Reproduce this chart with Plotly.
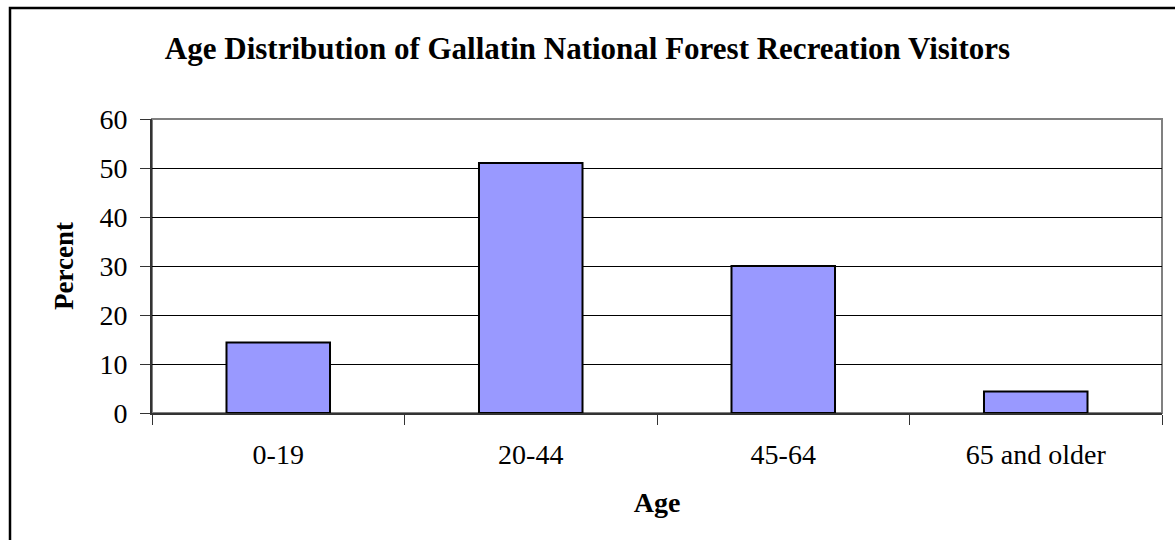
import plotly.graph_objects as go

categories = ["0-19", "20-44", "45-64", "65 and older"]
percent = [14.4, 51.0, 30.0, 4.4]
y_ticks = [0, 10, 20, 30, 40, 50, 60]

title_text = "Age Distribution of Gallatin National Forest Recreation Visitors"
x_title = "Age"
y_title = "Percent"

serif = "Liberation Serif, Times New Roman, serif"

fig = go.Figure(
    go.Bar(
        x=categories,
        y=percent,
        marker=dict(color="#9999FF", line=dict(color="#000000", width=2)),
        hoverinfo="x+y",
    )
)

W, H = 1175, 540
ml, mr, mt, mb = 152, 13, 119, 127
pw = W - ml - mr
ph = H - mt - mb

def px_x(p):
    return (p - ml) / pw

def px_y(p):
    return (H - mb - p) / ph

fig.update_layout(
    width=W,
    height=H,
    margin=dict(l=ml, r=mr, t=mt, b=mb, pad=0),
    paper_bgcolor="white",
    plot_bgcolor="white",
    showlegend=False,
    bargap=0.59,
    font=dict(family=serif, color="#000000"),
    title=dict(
        text="<b>" + title_text + "</b>",
        font=dict(family=serif, size=31, color="#000000"),
        xref="container", x=0.5, xanchor="center",
        yref="container", y=1 - 48 / H, yanchor="middle",
    ),
    xaxis=dict(
        type="category",
        showgrid=False,
        showline=True, linecolor="#333333", linewidth=2,
        ticks="outside", ticklen=10, tickwidth=1, tickcolor="#333333",
        tickson="boundaries",
        tickfont=dict(size=28, family=serif),
        ticklabelstandoff=15,
        title=dict(text="<b>" + x_title + "</b>", font=dict(size=28, family=serif), standoff=24),
        zeroline=False,
    ),
    yaxis=dict(
        range=[0, 60],
        tickvals=y_ticks,
        showgrid=True, gridcolor="#000000", gridwidth=1,
        showline=True, linecolor="#333333", linewidth=2,
        ticks="outside", ticklen=10, tickwidth=1, tickcolor="#333333",
        tickfont=dict(size=28, family=serif),
        ticklabelstandoff=7,
        title=dict(text="<b>" + y_title + "</b>", font=dict(size=27, family=serif), standoff=18),
        zeroline=False,
    ),
    shapes=[
        # plot area border (gray)
        dict(type="rect", xref="paper", yref="paper", x0=0, x1=1, y0=0, y1=1,
             line=dict(color="#808080", width=2), layer="below"),
        # outer chart border
        dict(type="rect", xref="paper", yref="paper",
             x0=px_x(10), x1=px_x(1200), y0=px_y(570), y1=px_y(8),
             line=dict(color="#000000", width=2.5), fillcolor="rgba(0,0,0,0)"),
    ],
)

fig.write_html("out.html")
